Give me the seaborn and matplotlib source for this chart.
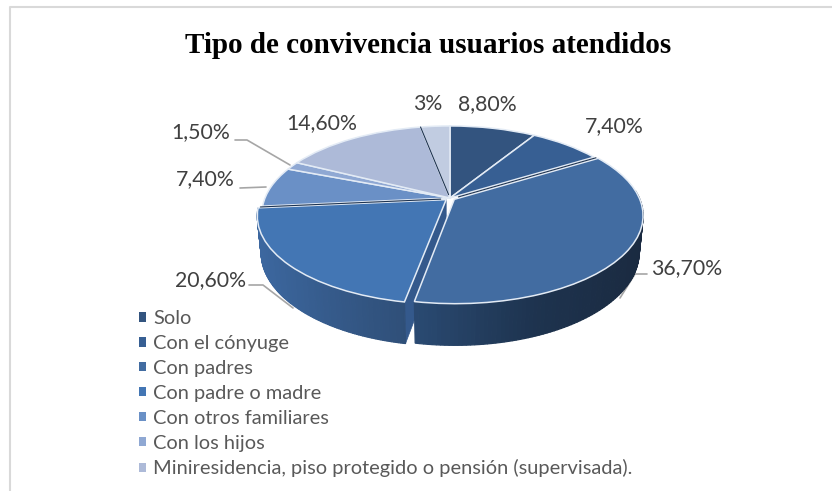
import numpy as np
import seaborn as sns
import matplotlib
matplotlib.use("Agg")
import matplotlib.pyplot as plt
from matplotlib.patches import Patch
from matplotlib.transforms import Transform

title = "Tipo de convivencia usuarios atendidos"
legend_labels = ["Solo", "Con el cónyuge", "Con padres", "Con padre o madre",
                 "Con otros familiares", "Con los hijos",
                 "Miniresidencia, piso protegido o pensión (supervisada)."]
values = [8.8, 7.4, 36.7, 20.6, 7.4, 1.5, 14.6, 3.0]
value_labels = ["8,80%", "7,40%", "36,70%", "20,60%", "7,40%", "1,50%", "14,60%", "3%"]
slice_colors = ["#33547f", "#375f93", "#426ca1", "#4376b4",
                "#6a90c6", "#8fa8d3", "#adbad8", "#c1cce1"]
explode = [0.0, 0.0, 0.028, 0.028, 0.0, 0.0, 0.0, 0.0]
label_xy = [(487, 104), (614, 126), (687, 268), (210, 280),
            (205, 179), (201, 132), (322, 123), (428, 104)]
leaders = [[(647, 274), (635, 274), (620, 298)],
           [(249, 285), (263, 285), (293, 308)],
           [(240, 188), (266, 187)],
           [(235, 140), (247, 140), (290, 165)]]
dark_boundaries = [2, 4, 7]

CX, CY, RX, RY, BP, CP, H = 450.0, 198.0, 185.0, 85.0, 0.18, 0.02, 37.0


def project(x, y, z=0.0):
    d = 1 + BP * y + CP * z
    return CX + RX * x / d, CY - (RY * y - H * z) / d


class Persp(Transform):
    input_dims = output_dims = 2
    is_separable = False
    has_inverse = False

    def __init__(self, z):
        super().__init__()
        self.z = z

    def transform_non_affine(self, v):
        v = np.asarray(v, float)
        px, py = project(v[:, 0], v[:, 1], self.z)
        return np.column_stack([px, py])


sns.set_theme(style="white")
plt.rcParams["font.family"] = ["Lato", "DejaVu Sans"]
fig = plt.figure(figsize=(8.32, 4.91), dpi=100)
ax = fig.add_axes([0, 0, 1, 1])

edge = "#e3ebf5"
tops, _ = ax.pie(values, colors=slice_colors, startangle=90, counterclock=False,
                 explode=explode, wedgeprops=dict(linewidth=1.1, edgecolor=edge))
for w in tops:
    w.set_transform(Persp(0.0) + ax.transData)
    w.set_zorder(5)

ax.set_aspect("auto")
ax.set_xlim(0, 832)
ax.set_ylim(491, 0)
ax.set_axis_off()
ax.set_frame_on(False)

# side walls
total = sum(values)
fracs = np.cumsum([0] + values) / total
wall_ramps = {2: sns.blend_palette(["#2a4a72", "#1e3450", "#1a2a40"], 64),
              3: sns.blend_palette(["#3c679f", "#355a8a", "#2f4f78"], 64)}
for i, ramp in wall_ramps.items():
    t0, t1 = 2 * np.pi * fracs[i], 2 * np.pi * fracs[i + 1]
    mid = (t0 + t1) / 2
    ox, oy = explode[i] * np.sin(mid), explode[i] * np.cos(mid)
    ts = np.linspace(t0, t1, 120)
    ts = ts[np.cos(ts) < 0.12]
    xs = project(ox + np.sin(ts), oy + np.cos(ts))[0]
    lo, hi = xs.min(), xs.max()
    for a, b in zip(ts[:-1], ts[1:]):
        pa0 = project(ox + np.sin(a), oy + np.cos(a), 0)
        pb0 = project(ox + np.sin(b), oy + np.cos(b), 0)
        pa1 = project(ox + np.sin(a), oy + np.cos(a), 1)
        pb1 = project(ox + np.sin(b), oy + np.cos(b), 1)
        f = (pa0[0] - lo) / (hi - lo)
        c = ramp[int(np.clip(f, 0, 1) * 63)]
        ax.fill([pa0[0], pb0[0], pb1[0], pa1[0]], [pa0[1], pb0[1], pb1[1], pa1[1]],
                color=c, lw=0.9, zorder=3)

# radial cut face of the fourth slice, seen through the front gap
i = 3
t0 = 2 * np.pi * fracs[i]
mid = 2 * np.pi * (fracs[i] + fracs[i + 1]) / 2
ox, oy = explode[i] * np.sin(mid), explode[i] * np.cos(mid)
p0 = project(ox, oy, 0)
p1 = project(ox + np.sin(t0), oy + np.cos(t0), 0)
p2 = project(ox + np.sin(t0), oy + np.cos(t0), 1)
p3 = project(ox, oy, 1)
ax.fill([p0[0], p1[0], p2[0], p3[0]], [p0[1], p1[1], p2[1], p3[1]],
        color="#34598c", lw=0.5, zorder=2)

# thin dark cut lines between some slices
for b in dark_boundaries:
    t = 2 * np.pi * fracs[b]
    m = 2 * np.pi * (fracs[2] + fracs[3]) / 2 if b == 2 else 2 * np.pi * (fracs[3] + fracs[4]) / 2
    e = 0.014 if b in (2, 4) else 0.0
    ox, oy = e * np.sin(m), e * np.cos(m)
    a = project(ox + 0.04 * np.sin(t), oy + 0.04 * np.cos(t))
    c = project(ox + np.sin(t), oy + np.cos(t))
    ax.plot([a[0], c[0]], [a[1], c[1]], color="#1e3350", lw=0.8, zorder=6)

# data labels and leader lines
for txt, (x, y) in zip(value_labels, label_xy):
    ax.text(x, y, txt, ha="center", va="center", fontsize=15.3, color="#404040", zorder=7)
for pts in leaders:
    ax.plot(*zip(*pts), color="#a6a6a6", lw=1.2, zorder=1)

# chart frame
ax.plot([832, 10, 10], [7, 7, 491], color="#d9d9d9", lw=1.5, zorder=0)

ax.text(428, 53, title, ha="center", va="baseline", fontsize=21, fontweight="bold",
        family="Liberation Serif", color="black", zorder=7)

handles = [Patch(facecolor=c, edgecolor="none") for c in slice_colors[:7]]
fig.legend(handles, legend_labels, loc="upper left", bbox_to_anchor=(139 / 832, 1 - 310 / 491),
           frameon=False, fontsize=14.4, labelcolor="#595959", handlelength=0.36,
           handleheight=0.36, handletextpad=0.36, labelspacing=0.395,
           borderpad=0, borderaxespad=0)

fig.savefig("out.png", dpi=100)
